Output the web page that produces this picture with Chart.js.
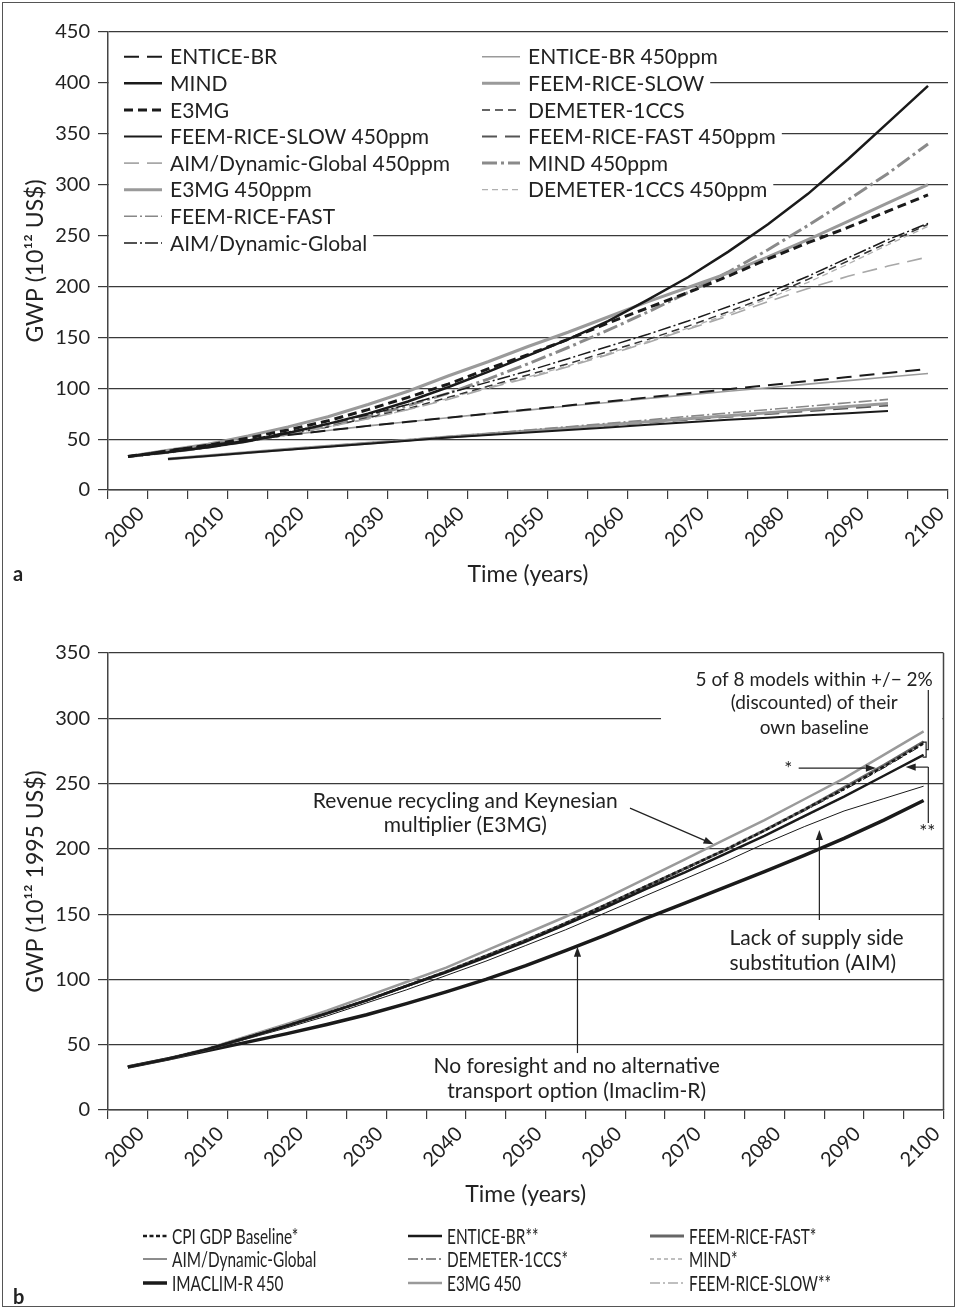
<!DOCTYPE html>
<html>
<head>
<meta charset="utf-8">
<title>GWP scenarios</title>
<script src="https://cdn.jsdelivr.net/npm/chart.js@4.4.1/dist/chart.umd.min.js"></script>
<style>
  html, body { margin: 0; padding: 0; background: #fff; }
  #page { position: relative; width: 957px; height: 1309px; overflow: hidden; }
  #ca { position: absolute; left: 0; top: 0; }
  #cb { position: absolute; left: 0; top: 600px; }
  #frame { position: absolute; left: 2px; top: 2px; width: 953px; height: 1305px;
           box-sizing: border-box; border: 1.5px solid #555; pointer-events: none; }
</style>
</head>
<body>
<div id="page">
  <canvas id="ca" width="957" height="600"></canvas>
  <canvas id="cb" width="957" height="709"></canvas>
  <div id="frame"></div>
</div>
<script>
// ---- categories -------------------------------------------------------
const YEARS = [2000,2005,2010,2015,2020,2025,2030,2035,2040,2045,2050,2055,2060,2065,2070,2075,2080,2085,2090,2095,2100];
const YEAR_LABELS = [2000,2010,2020,2030,2040,2050,2060,2070,2080,2090,2100];

// ---- panel a: GWP, 10^12 US$ -----------------------------------------
const A_ENTICE_BR     = [33,39,44,49,54,58.5,63,67,71,75,79,83,87,91,95,99,103,107,111,115,119];
const A_ENTICE_BR_450 = [33,39,44,49,54,58.5,63,67,71,75,78.5,82.5,86,90,93.5,97,100.5,104,107.5,111,114.5];
const A_MIND          = [33,37,42,48,56,65,75,87,101,116,132,148,166,187,209,234,261,291,325,361,397];
const A_MIND_450      = [33,37,42,48,55,63,72,83,95,109,124,140,157,175,194,214,236,260,285,311,340];
const A_E3MG          = [33,38,44,51,59,68,79,91,104,119,133,148,164,179,194,210,227,243,258,274,290];
const A_E3MG_450      = [33,39,45,53,62,72,84,97,112,126,141,155,170,185,199,213,229,246,264,282,300];
const A_AIM           = [33,38,43,49,57,65,74,84,95,106,117,129,141,153,166,180,194,210,228,246,262];
const A_AIM_450       = [33,37,42,48,55,62,70,79,89,100,110,121,133,145,158,171,185,198,210,220,229];
const A_DEMETER       = [33,37,42,48,55,62,71,80,91,102,113,124,136,148,161,175,190,207,225,243,261];
const A_DEMETER_450   = [33,37,42,48,55,62,70,79,90,101,111,122,134,146,159,173,188,204,222,241,259];
const A_FEEM_SLOW     = [null,30.5,33.7,36.9,40,43,46,49,52,55,58,61,64,67,70,73,76,79,82,85,null];
const A_FEEM_SLOW_450 = [null,30.5,33.5,36.5,39.5,42.5,45.5,48.5,51.5,54,56.5,59,61.5,64,66.5,69,71,73.5,75.5,77.5,null];
const A_FEEM_FAST     = [null,30.5,33.8,37,40.2,43.3,46.4,49.4,52.5,55.5,58.9,62.2,65.6,68.9,72.3,75.6,79,82.3,85.7,89,null];
const A_FEEM_FAST_450 = [null,30.5,33.6,36.7,39.8,42.8,45.8,48.8,51.8,54.6,57.5,60.4,63.3,66.2,69,71.8,74.6,77.4,80.2,83,null];

// ---- panel b: GWP, 10^12 1995 US$ ------------------------------------
const B_BASELINE  = [33,39,46.5,55.5,64.5,74,84,95,106,118,130,143,157,171,185,199,214,230,246,263,281];
const B_ENTICE    = [33,39,46.5,55.5,64.5,74,84,95,105.5,117,129,142,155,169,182,196,210,225,240,256,272];
const B_FEEM_FAST = [33,39,46.5,55.5,64.5,74,84,95,106,118,130,143,157,171,185,199,214,230,247,264,282];
const B_AIM       = [33,39,46,54.5,63,72,82,92,103,114,126,138,151,164,177,190,204,217,229,238.5,248];
const B_DEMETER   = [33,39,46.5,55,64,73.5,83.5,94.5,105.5,117.5,130,143,156,170,184,199,214,229,245,262,280];
const B_MIND      = [33,39,46.5,55.5,64.5,74,84.5,95.5,106.5,118.5,130.5,143.5,157,171,185.5,200,215,231,247,264,282];
const B_IMACLIM   = [33,39,45.5,52,58.5,65.5,73,81.5,90.5,100,110.5,122,134,146.5,158.5,170.5,182.5,195,208,222,237];
const B_E3MG_450  = [33,39.5,47,56.5,66,76,87,98,109,122,135,148,162,177,192,207,222,238,254,272,290];
const B_FEEM_SLOW = [33,39,46.5,55.5,64.5,74,84,94.5,105,117,129,141.5,155,168.5,182,196,210,224.5,240,256,272];

// ---- legend layout (by dataset label) ---------------------------------
const LEGEND_A_LEFT  = ['ENTICE-BR','MIND','E3MG','FEEM-RICE-SLOW 450ppm','AIM/Dynamic-Global 450ppm','E3MG 450ppm','FEEM-RICE-FAST','AIM/Dynamic-Global'];
const LEGEND_A_RIGHT = ['ENTICE-BR 450ppm','FEEM-RICE-SLOW','DEMETER-1CCS','FEEM-RICE-FAST 450ppm','MIND 450ppm','DEMETER-1CCS 450ppm'];
const LEGEND_B_ROWS  = [
  ['CPI GDP Baseline*','ENTICE-BR**','FEEM-RICE-FAST*'],
  ['AIM/Dynamic-Global','DEMETER-1CCS*','MIND*'],
  ['IMACLIM-R 450','E3MG 450','FEEM-RICE-SLOW**']
];

const FONT = 'Lato, "Open Sans", "DejaVu Sans", sans-serif';
const INK = '#1a1a1a';
const TEXT = '#222';
const GRID = '#3a3a3a';

function line(label, data, color, width, dash) {
  return { label, data, borderColor: color, backgroundColor: color, borderWidth: width,
           borderDash: dash || [], pointRadius: 0, tension: 0, fill: false, spanGaps: false };
}

const datasetsA = [
  line('ENTICE-BR', A_ENTICE_BR, INK, 2, [15,8]),
  line('MIND', A_MIND, INK, 2.5),
  line('E3MG', A_E3MG, INK, 3, [9,5]),
  line('FEEM-RICE-SLOW 450ppm', A_FEEM_SLOW_450, INK, 2),
  line('AIM/Dynamic-Global 450ppm', A_AIM_450, '#a8a8a8', 1.6, [15,8]),
  line('E3MG 450ppm', A_E3MG_450, '#9a9a9a', 3),
  line('FEEM-RICE-FAST', A_FEEM_FAST, '#888', 1.6, [13,3,2,3]),
  line('AIM/Dynamic-Global', A_AIM, INK, 1.5, [13,3,2,3]),
  line('ENTICE-BR 450ppm', A_ENTICE_BR_450, '#9a9a9a', 1.6),
  line('FEEM-RICE-SLOW', A_FEEM_SLOW, '#9a9a9a', 3),
  line('DEMETER-1CCS', A_DEMETER, '#333', 1.5, [8,5]),
  line('FEEM-RICE-FAST 450ppm', A_FEEM_FAST_450, '#555', 1.8, [15,8]),
  line('MIND 450ppm', A_MIND_450, '#8a8a8a', 3, [15,4,3,4]),
  line('DEMETER-1CCS 450ppm', A_DEMETER_450, '#b0b0b0', 1.3, [6,4])
];

const datasetsB = [
  line('CPI GDP Baseline*', B_BASELINE, INK, 2.5, [4,2.5]),
  line('ENTICE-BR**', B_ENTICE, INK, 2.5),
  line('FEEM-RICE-FAST*', B_FEEM_FAST, '#666', 2.8),
  line('AIM/Dynamic-Global', B_AIM, INK, 1),
  line('DEMETER-1CCS*', B_DEMETER, INK, 1, [10,3,2,3]),
  line('MIND*', B_MIND, '#aaa', 1.3, [4,3]),
  line('IMACLIM-R 450', B_IMACLIM, INK, 3.5),
  line('E3MG 450', B_E3MG_450, '#9a9a9a', 2.5),
  line('FEEM-RICE-SLOW**', B_FEEM_SLOW, '#aaa', 1.3, [10,3,2,3])
];

// pixel helpers on the category axis (fractional positions between 5-year steps)
function xAt(chart, year) { return chart.scales.x.getPixelForValue((year - YEARS[0]) / 5); }
function yAt(chart, v) { return chart.scales.y.getPixelForValue(v); }

function sample(ctx, ds, x0, x1, y) {
  ctx.save();
  ctx.beginPath();
  ctx.strokeStyle = ds.borderColor;
  ctx.lineWidth = ds.borderWidth;
  ctx.setLineDash(ds.borderDash || []);
  ctx.moveTo(x0, y); ctx.lineTo(x1, y);
  ctx.stroke();
  ctx.restore();
}

// in-plot legend of panel a, rows sit on white so the gridlines stop at the text
const legendA = {
  id: 'legendA',
  beforeDatasetsDraw(chart) {
    const { ctx, chartArea: ca } = chart;
    const cols = [{ names: LEGEND_A_LEFT, x: 124 }, { names: LEGEND_A_RIGHT, x: 482 }];
    const rowH = 26.6, y0 = 56.7, sw = 38, gap = 8;
    ctx.save();
    ctx.font = '21px ' + FONT;
    const nRows = Math.max(...cols.map(c => c.names.length));
    for (let r = 0; r < nRows; r++) {
      let end = ca.left;
      cols.forEach(c => { if (c.names[r]) end = c.x + sw + gap + ctx.measureText(c.names[r]).width + 6; });
      ctx.fillStyle = '#fff';
      ctx.fillRect(ca.left + 1, y0 + r * rowH - rowH / 2, end - ca.left - 1, rowH);
    }
    cols.forEach(c => c.names.forEach((name, r) => {
      const ds = chart.data.datasets.find(d => d.label === name);
      const y = y0 + r * rowH;
      sample(ctx, ds, c.x, c.x + sw, y);
      ctx.fillStyle = TEXT;
      ctx.textBaseline = 'middle';
      ctx.textAlign = 'left';
      ctx.fillText(name, c.x + sw + gap, y + 1);
    }));
    ctx.restore();
  }
};

// legend under panel b, set in a narrow face
const legendB = {
  id: 'legendB',
  afterDraw(chart) {
    const ctx = chart.ctx;
    const colX = [143, 408, 650], sw = [24, 34, 34], rowY = [636, 659, 683];
    ctx.save();
    ctx.font = '20.5px ' + FONT;
    ctx.textBaseline = 'middle';
    ctx.fillStyle = TEXT;
    LEGEND_B_ROWS.forEach((row, r) => row.forEach((name, c) => {
      const ds = chart.data.datasets.find(d => d.label === name);
      sample(ctx, ds, colX[c], colX[c] + sw[c], rowY[r]);
      ctx.save();
      ctx.translate(colX[c] + sw[c] + 5, rowY[r] + 1);
      ctx.scale(0.75, 1);
      ctx.fillText(name, 0, 0);
      ctx.restore();
    }));
    ctx.restore();
  }
};

function arrow(ctx, x1, y1, x2, y2) {
  const a = Math.atan2(y2 - y1, x2 - x1), L = 10, W = 3.6;
  ctx.beginPath(); ctx.moveTo(x1, y1); ctx.lineTo(x2 - Math.cos(a) * 6, y2 - Math.sin(a) * 6); ctx.stroke();
  ctx.beginPath();
  ctx.moveTo(x2, y2);
  ctx.lineTo(x2 - L * Math.cos(a) + W * Math.sin(a), y2 - L * Math.sin(a) - W * Math.cos(a));
  ctx.lineTo(x2 - L * Math.cos(a) - W * Math.sin(a), y2 - L * Math.sin(a) + W * Math.cos(a));
  ctx.closePath(); ctx.fill();
}

// notes and arrows of panel b
const notesB = {
  id: 'notesB',
  beforeDatasetsDraw(chart) {
    const { ctx, chartArea: ca } = chart;
    const x0 = xAt(chart, 2067);
    ctx.save();
    ctx.fillStyle = '#fff';
    ctx.fillRect(x0, yAt(chart, 300) - 2, ca.right - 1 - x0, 4);
    ctx.restore();
  },
  afterDatasetsDraw(chart) {
    const { ctx, chartArea: ca } = chart;
    const X = yr => xAt(chart, yr), Y = v => yAt(chart, v);
    ctx.save();
    // plot frame on the right
    ctx.strokeStyle = '#444'; ctx.lineWidth = 1.5;
    ctx.beginPath(); ctx.moveTo(ca.right, ca.top); ctx.lineTo(ca.right, ca.bottom); ctx.stroke();

    ctx.fillStyle = TEXT; ctx.strokeStyle = TEXT; ctx.lineWidth = 1.2;
    ctx.textBaseline = 'middle';

    ctx.font = '19px ' + FONT;
    ctx.textAlign = 'center';
    ctx.fillText('5 of 8 models within +/\u2212 2%', X(2086.25), Y(329.2));
    ctx.fillText('(discounted) of their', X(2086.25), Y(311.6));
    ctx.fillText('own baseline', X(2086.25), Y(292.5));

    // bracket around the two groups ending near the baselines
    const xe = X(2100);
    ctx.beginPath();
    ctx.moveTo(xe - 1, Y(281.8)); ctx.lineTo(xe + 2.5, Y(281.8));
    ctx.lineTo(xe + 2.5, Y(270.3)); ctx.lineTo(xe - 1, Y(270.3));
    ctx.moveTo(xe + 2.5, Y(276)); ctx.lineTo(xe + 4.7, Y(276));
    ctx.lineTo(xe + 4.7, Y(321.6));
    ctx.stroke();

    // single star
    ctx.fillText('*', X(2083), Y(261));
    arrow(ctx, X(2084.3), Y(261.9), X(2094), Y(261.9));

    // double star
    ctx.fillText('**', xe + 3.6, Y(214.4) + 2);
    ctx.beginPath(); ctx.moveTo(xe + 4.7, Y(219.8)); ctx.lineTo(xe + 4.7, Y(262.6)); ctx.stroke();
    arrow(ctx, xe + 4.7, Y(262.6), X(2097.75), Y(262.6));

    ctx.font = '21px ' + FONT;
    // E3MG note
    ctx.fillText('Revenue recycling and Keynesian', X(2042.4), Y(236.6));
    ctx.fillText('multiplier (E3MG)', X(2042.4), Y(218.2));
    arrow(ctx, X(2063.1), Y(231.2), X(2073.6), Y(203.5));

    // AIM note
    ctx.textAlign = 'left';
    ctx.fillText('Lack of supply side', X(2075.6), Y(131.7));
    ctx.fillText('substitution (AIM)', X(2075.6), Y(112.6));
    arrow(ctx, X(2086.9), Y(145.5), X(2086.9), Y(214.4));

    // Imaclim note
    ctx.textAlign = 'center';
    ctx.fillText('No foresight and no alternative', X(2056.4), Y(33.7));
    ctx.fillText('transport option (Imaclim-R)', X(2056.4), Y(14.5));
    arrow(ctx, X(2056.5), Y(43.6), X(2056.5), Y(125));
    ctx.restore();
  }
};

function panelTag(letter, x, y) {
  return {
    id: 'tag' + letter,
    afterDraw(chart) {
      const ctx = chart.ctx;
      ctx.save();
      ctx.font = 'bold 20px ' + FONT;
      ctx.fillStyle = TEXT;
      ctx.textBaseline = 'middle';
      ctx.textAlign = 'left';
      ctx.fillText(letter, x, y);
      ctx.restore();
    }
  };
}

function axes(yMax, yTitle, xHeight, xTitlePad) {
  const tickFont = { family: FONT, size: 20 };
  const titleFont = { family: FONT, size: 23 };
  return {
    x: {
      offset: true,
      grid: { display: true, drawOnChartArea: false, drawTicks: true, tickLength: 9, offset: true, color: GRID, lineWidth: 1.2 },
      border: { display: true, color: '#444', width: 1.5 },
      ticks: {
        autoSkip: false, maxRotation: 45, minRotation: 45, labelOffset: 13, padding: 3,
        font: tickFont, color: TEXT,
        callback: (v, i) => YEAR_LABELS.includes(YEARS[i]) ? String(YEARS[i]) : ''
      },
      title: { display: true, text: 'Time (years)', font: titleFont, color: TEXT, padding: { top: 0, bottom: xTitlePad } },
      afterFit: s => { s.height = xHeight; }
    },
    y: {
      min: 0, max: yMax,
      grid: { color: GRID, lineWidth: 1.2, tickLength: 10, drawTicks: true },
      border: { color: '#444', width: 1.5 },
      ticks: { stepSize: 50, padding: 8, font: tickFont, color: TEXT },
      title: { display: true, text: yTitle, font: titleFont, color: TEXT, padding: { top: 22, bottom: 0 } },
      afterFit: s => { s.width = 108; }
    }
  };
}

const common = {
  responsive: false, animation: false, devicePixelRatio: 1,
  elements: { point: { radius: 0 }, line: { tension: 0, borderCapStyle: 'butt' } },
  plugins: { legend: { display: false }, tooltip: { enabled: false } }
};

new Chart(document.getElementById('ca'), {
  type: 'line',
  data: { labels: YEARS.map(String), datasets: datasetsA },
  options: Object.assign({}, common, {
    layout: { padding: { left: 0, right: 9, top: 32, bottom: 10 } },
    scales: axes(450, 'GWP (10\u00B9\u00B2 US$)', 100, 2)
  }),
  plugins: [legendA, panelTag('a', 13, 575)]
});

new Chart(document.getElementById('cb'), {
  type: 'line',
  data: { labels: YEARS.map(String), datasets: datasetsB },
  options: Object.assign({}, common, {
    layout: { padding: { left: 0, right: 13.5, top: 53, bottom: 100 } },
    scales: axes(350, 'GWP (10\u00B9\u00B2 1995 US$)', 99, 1)
  }),
  plugins: [notesB, legendB, panelTag('b', 13, 698)]
});
</script>
</body>
</html>
